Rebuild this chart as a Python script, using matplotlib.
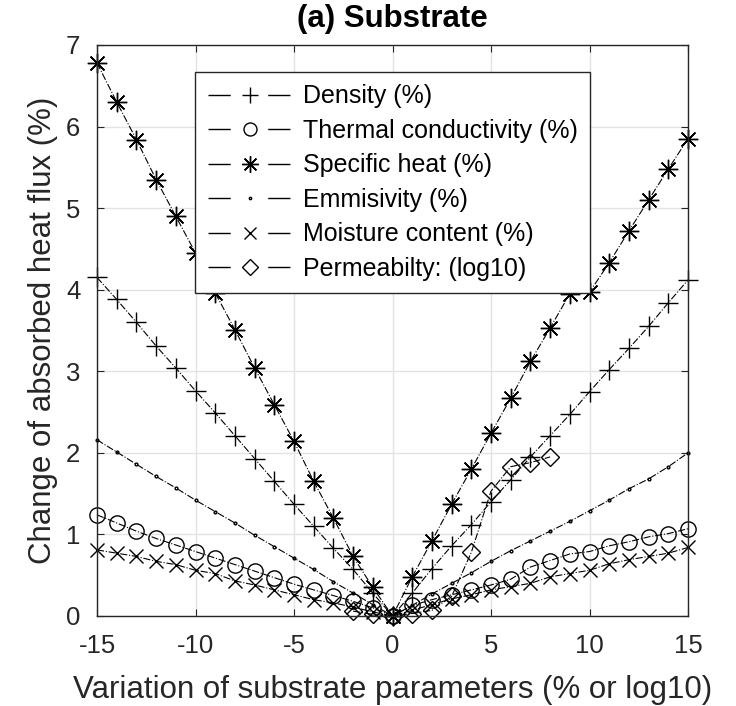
import matplotlib
import matplotlib.pyplot as plt
import numpy as np
from matplotlib.lines import Line2D

matplotlib.use('Agg')

plt.rcParams['font.family'] = 'Liberation Sans'
plt.rcParams['font.size'] = 18
plt.rcParams['axes.unicode_minus'] = False

# Variation steps (% for most parameters, log10 for permeability)
x_pct = list(range(-15, 16))
x_perm = list(range(-2, 9))

density = [4.15, 3.88, 3.60, 3.31, 3.04, 2.76, 2.49, 2.21, 1.93, 1.65, 1.37, 1.10, 0.83, 0.57, 0.28,
           0.00, 0.28, 0.58, 0.86, 1.12, 1.40, 1.67, 1.95, 2.21, 2.47, 2.75, 3.02, 3.28, 3.55, 3.84, 4.12]
thermal = [1.24, 1.14, 1.04, 0.95, 0.87, 0.79, 0.71, 0.63, 0.55, 0.47, 0.39, 0.32, 0.25, 0.18, 0.10,
           0.00, 0.13, 0.20, 0.26, 0.32, 0.38, 0.45, 0.60, 0.68, 0.76, 0.79, 0.86, 0.91, 0.97, 1.01, 1.07]
specific_heat = [6.78, 6.30, 5.84, 5.35, 4.90, 4.45, 3.96, 3.51, 3.04, 2.59, 2.14, 1.65, 1.20, 0.73, 0.35,
                 0.00, 0.48, 0.92, 1.37, 1.80, 2.24, 2.67, 3.12, 3.53, 3.95, 3.97, 4.33, 4.72, 5.10, 5.48, 5.85]
emissivity = [2.16, 2.01, 1.86, 1.71, 1.57, 1.42, 1.28, 1.14, 0.99, 0.85, 0.71, 0.57, 0.42, 0.28, 0.14,
              0.00, 0.13, 0.27, 0.40, 0.53, 0.67, 0.80, 0.92, 1.04, 1.16, 1.29, 1.42, 1.56, 1.68, 1.83, 2.00]
moisture = [0.81, 0.77, 0.73, 0.67, 0.63, 0.56, 0.52, 0.43, 0.38, 0.32, 0.26, 0.20, 0.16, 0.11, 0.05,
            0.00, 0.07, 0.14, 0.21, 0.26, 0.32, 0.36, 0.40, 0.48, 0.52, 0.56, 0.64, 0.69, 0.73, 0.77, 0.84]
permeability = [0.06, 0.02, 0.00, 0.03, 0.07, 0.24, 0.78, 1.53, 1.83, 1.88, 1.95]

labels = ['Density (%)', 'Thermal conductivity (%)', 'Specific heat (%)',
          'Emmisivity (%)', 'Moisture content (%)', 'Permeabilty: (log10)']

# marker style and size for each series
styles = [('+', 14), ('o', 11), ((8, 2, 0), 14), ('.', 4), ('x', 10), ('D', 9)]
series = [(x_pct, density), (x_pct, thermal), (x_pct, specific_heat),
          (x_pct, emissivity), (x_pct, moisture), (x_perm, permeability)]

fig = plt.figure(figsize=(7.36, 7.06), dpi=100)
ax = fig.add_axes([0.1318, 0.1275, 0.8030, 0.8088])

for (xs, ys), (mk, ms), lab in zip(series, styles, labels):
    ax.plot(xs, ys, color='k', linestyle='-.', linewidth=0.8, marker=mk, markersize=ms,
            mfc='none', mec='k', mew=1.0, clip_on=False, label=lab)

ax.set_xlim(-15, 15)
ax.set_ylim(0, 7)
ax.set_xticks(np.arange(-15, 16, 5))
ax.set_yticks(np.arange(0, 8, 1))
ax.grid(True, color='#e3e3e3', linewidth=1.0)
ax.set_axisbelow(True)

ax.tick_params(axis='both', direction='in', length=5, width=0.8, top=True, right=True,
               labelsize=18.5, colors='#262626')
ax.tick_params(axis='x', pad=13)
ax.tick_params(axis='y', pad=12)
for spine in ax.spines.values():
    spine.set_linewidth(1.0)
    spine.set_color('#262626')

ax.set_xlabel('Variation of substrate parameters (% or log10)', fontsize=22.5, color='#262626', labelpad=12)
ax.set_ylabel('Change of absorbed heat flux (%)', fontsize=22.5, color='#262626', labelpad=6)
ax.set_title('(a) Substrate', fontsize=22.5, fontweight='bold', pad=13)

# legend samples: long dash, marker, long dash
handles = [Line2D([], [], color='k', linewidth=1.0, linestyle=(0, (16, 27)),
                  marker=mk, markersize=ms * 0.85, mfc='none', mec='k', mew=1.0)
           for mk, ms in styles]
leg = ax.legend(handles, labels, loc='upper left', bbox_to_anchor=(0.166, 0.953),
                borderaxespad=0, fontsize=18, handlelength=3.4, handletextpad=0.4,
                labelspacing=0.42, borderpad=0.5, fancybox=False, framealpha=1,
                edgecolor='#262626')
leg.get_frame().set_linewidth(1.0)

plt.savefig('out.png', dpi=100)
plt.close()
